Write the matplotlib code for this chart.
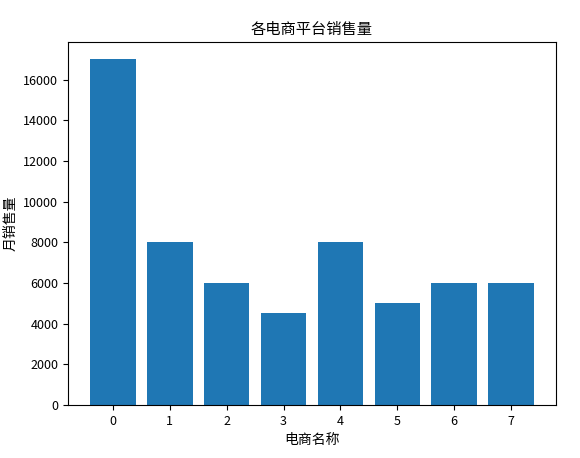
import matplotlib
matplotlib.use("Agg")
import matplotlib.pyplot as plt

plt.rcParams['font.family'] = ['Noto Sans CJK SC', 'DejaVu Sans']
plt.rcParams['axes.unicode_minus'] = False

categories = [0, 1, 2, 3, 4, 5, 6, 7]
sales = [17000, 8000, 6000, 4500, 8000, 5000, 6000, 6000]

fig = plt.figure(figsize=(5.8, 4.58), dpi=100)
ax = fig.add_axes([68/580, 1 - 405/458, (556-68)/580, (405-42)/458])
ax.bar(categories, sales, color='#1f77b4')
ax.set_xticks(categories)
ax.set_title('各电商平台销售量', fontsize=11)
ax.set_xlabel('电商名称', fontsize=10)
ax.set_ylabel('月销售量', fontsize=10)
ax.tick_params(labelsize=9)
fig.savefig('out.png', dpi=100)
